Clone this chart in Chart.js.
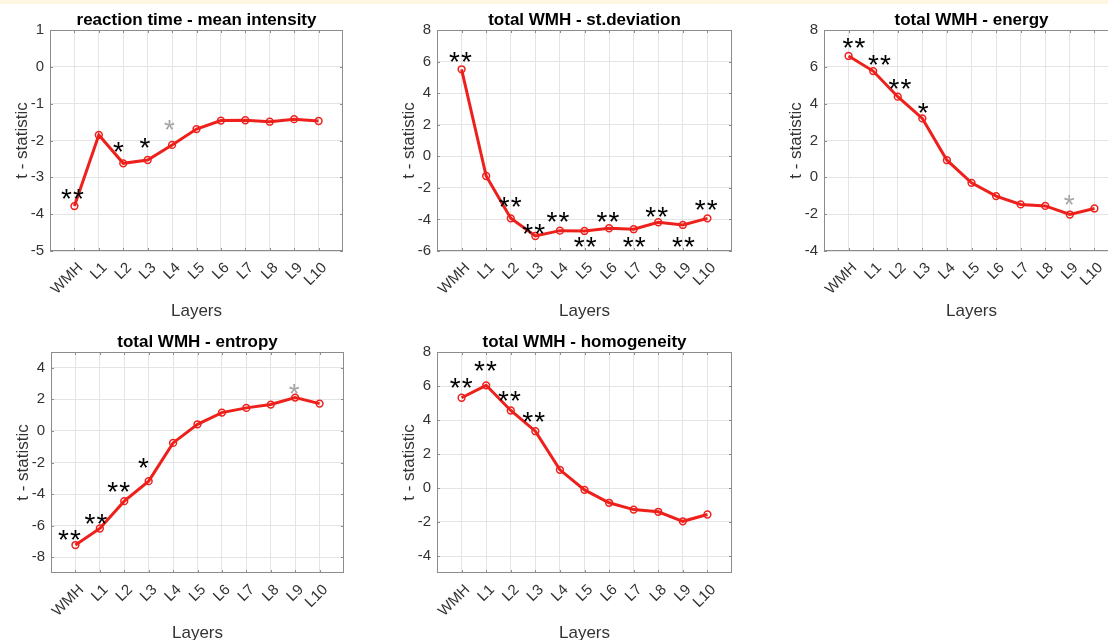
<!DOCTYPE html>
<html>
<head>
<meta charset="utf-8">
<script src="https://cdn.jsdelivr.net/npm/chart.js@4.4.0/dist/chart.umd.min.js"></script>
<style>
  html, body { margin: 0; padding: 0; background: #fff; width: 1108px; height: 640px; overflow: hidden; position: relative; }
  .strip { position: absolute; left: 0; top: 0; width: 1108px; height: 4px; background: #fdf7e2; }
  canvas { position: absolute; }
</style>
</head>
<body>
<div class="strip"></div>
<canvas id="c1"></canvas>
<canvas id="c2"></canvas>
<canvas id="c3"></canvas>
<canvas id="c4"></canvas>
<canvas id="c5"></canvas>
<script>
// categories
const layers = ['WMH', 'L1', 'L2', 'L3', 'L4', 'L5', 'L6', 'L7', 'L8', 'L9', 'L10'];

// t-statistic per layer
const rtMeanIntensity = [-3.78, -1.85, -2.62, -2.53, -2.12, -1.69, -1.46, -1.45, -1.49, -1.42, -1.47];
const wmhStDeviation  = [5.51, -1.25, -3.93, -5.05, -4.71, -4.73, -4.56, -4.62, -4.18, -4.35, -3.93];
const wmhEnergy       = [6.59, 5.77, 4.38, 3.20, 0.93, -0.30, -1.02, -1.47, -1.55, -2.02, -1.69];
const wmhEntropy      = [-7.23, -6.18, -4.45, -3.18, -0.76, 0.42, 1.16, 1.46, 1.67, 2.11, 1.73];
const wmhHomogeneity  = [5.31, 6.04, 4.56, 3.34, 1.07, -0.11, -0.87, -1.27, -1.40, -1.96, -1.56];

// y tick labels
const ticks1 = [-5, -4, -3, -2, -1, 0, 1];
const ticks2 = [-6, -4, -2, 0, 2, 4, 6, 8];
const ticks3 = [-4, -2, 0, 2, 4, 6, 8];
const ticks4 = [-8, -6, -4, -2, 0, 2, 4];
const ticks5 = [-4, -2, 0, 2, 4, 6, 8];

// significance marks (x = layer position, WMH = 1), weak = grey trend mark
const sig1X = [0.92, 2.8, 3.89, 4.89];
const sig1Y = [-3.45, -2.17, -2.06, -1.58];
const sig1Text = ['**', '*', '*', '*'];
const sig1Weak = [false, false, false, true];

const sig2X = [0.95, 2.98, 3.93, 4.92, 6.03, 6.95, 8.02, 8.94, 10.02, 10.95];
const sig2Y = [6.27, -2.87, -4.6, -3.82, -5.41, -3.82, -5.41, -3.5, -5.41, -3.08];
const sig2Text = ['**', '**', '**', '**', '**', '**', '**', '**', '**', '**'];
const sig2Weak = [false, false, false, false, false, false, false, false, false, false];

const sig3X = [1.22, 2.26, 3.09, 4.04, 9.97];
const sig3Y = [7.28, 6.37, 5.05, 3.78, -1.24];
const sig3Text = ['**', '**', '**', '*', '*'];
const sig3Weak = [false, false, false, false, true];

const sig4X = [0.76, 1.84, 2.77, 3.79, 9.96];
const sig4Y = [-6.6, -5.59, -3.54, -2.06, 2.64];
const sig4Text = ['**', '**', '**', '*', '*'];
const sig4Weak = [false, false, false, false, true];

const sig5X = [0.98, 1.97, 2.95, 3.93];
const sig5Y = [6.17, 7.16, 5.39, 4.17];
const sig5Text = ['**', '**', '**', '**'];
const sig5Weak = [false, false, false, false];

const FONT = '"Liberation Sans", Arial, Helvetica, sans-serif';
const RED = 'rgb(238, 32, 28)';
const GRID = '#e4e4e4';
const BOX = '#8c8c8c';
const TICK = '#333333';
const Y_AXIS_W = 50, X_AXIS_H = 72, TOP_PAD = 30, RIGHT_PAD = 25, PLOT_H = 221;
const STAR_GAP = 12;

// box, inward ticks, title and significance stars
const deco = {
    id: 'deco',
    beforeDatasetsDraw(chart) {
        const { ctx, chartArea: a, scales } = chart;
        ctx.save();
        ctx.strokeStyle = BOX;
        ctx.lineWidth = 1;
        ctx.strokeRect(a.left + 0.5, a.top + 0.5, a.right - a.left - 1, a.bottom - a.top - 1);
        ctx.beginPath();
        scales.x.ticks.forEach(t => {
            const px = Math.round(scales.x.getPixelForValue(t.value)) + 0.5;
            ctx.moveTo(px, a.bottom); ctx.lineTo(px, a.bottom - 3);
            ctx.moveTo(px, a.top); ctx.lineTo(px, a.top + 3);
        });
        scales.y.ticks.forEach(t => {
            const py = Math.round(scales.y.getPixelForValue(t.value)) + 0.5;
            ctx.moveTo(a.left, py); ctx.lineTo(a.left + 3, py);
            ctx.moveTo(a.right, py); ctx.lineTo(a.right - 3, py);
        });
        ctx.stroke();
        ctx.restore();
    },
    afterDatasetsDraw(chart, args, opts) {
        const { ctx, chartArea: a, scales } = chart;
        ctx.save();
        ctx.fillStyle = '#000';
        ctx.font = 'bold 17px ' + FONT;
        ctx.textAlign = 'center';
        ctx.textBaseline = 'alphabetic';
        ctx.fillText(opts.title, (a.left + a.right) / 2, a.top - 5);

        ctx.font = '28px ' + FONT;
        const m = ctx.measureText('*');
        const inkMid = (m.actualBoundingBoxAscent - m.actualBoundingBoxDescent) / 2;
        opts.sigX.forEach((x, i) => {
            ctx.fillStyle = opts.sigWeak[i] ? '#a6a6a6' : '#000';
            const chars = opts.sigText[i].split('');
            const cx = scales.x.getPixelForValue(x);
            const cy = scales.y.getPixelForValue(opts.sigY[i]) + inkMid;
            chars.forEach((ch, k) => {
                ctx.fillText(ch, cx + (k - (chars.length - 1) / 2) * STAR_GAP, cy);
            });
        });
        ctx.restore();
    }
};

function makePanel(id, plotX, plotY, plotW, title, values, yMin, yMax, yTicks, sigX, sigY, sigText, sigWeak) {
    const canvas = document.getElementById(id);
    canvas.width = Y_AXIS_W + plotW + RIGHT_PAD;
    canvas.height = TOP_PAD + PLOT_H + X_AXIS_H;
    canvas.style.left = (plotX - Y_AXIS_W) + 'px';
    canvas.style.top = (plotY - TOP_PAD) + 'px';

    new Chart(canvas, {
        type: 'line',
        data: {
            datasets: [{
                data: values.map((v, i) => ({ x: i + 1, y: v })),
                borderColor: RED,
                borderWidth: 3,
                tension: 0,
                pointRadius: 3.4,
                pointBorderWidth: 1.5,
                pointBorderColor: RED,
                pointBackgroundColor: 'rgba(0,0,0,0)'
            }]
        },
        options: {
            responsive: false,
            animation: false,
            devicePixelRatio: 1,
            layout: { padding: { top: TOP_PAD, right: RIGHT_PAD, left: 0, bottom: 0 } },
            plugins: {
                legend: { display: false },
                tooltip: { enabled: false },
                deco: { title, sigX, sigY, sigText, sigWeak }
            },
            scales: {
                x: {
                    type: 'linear',
                    min: 0,
                    max: 12,
                    afterBuildTicks: s => { s.ticks = layers.map((_, i) => ({ value: i + 1 })); },
                    afterFit: s => { s.height = X_AXIS_H; },
                    grid: { color: GRID, drawTicks: false },
                    border: { display: false },
                    ticks: {
                        autoSkip: false, minRotation: 45, maxRotation: 45, padding: 8, labelOffset: 6,
                        color: TICK, font: { family: FONT, size: 15 },
                        callback: v => layers[v - 1]
                    },
                    title: {
                        display: true, text: 'Layers', color: TICK,
                        font: { family: FONT, size: 17 }, padding: { top: 0, bottom: 1 }
                    }
                },
                y: {
                    min: yMin,
                    max: yMax,
                    afterBuildTicks: s => { s.ticks = yTicks.map(v => ({ value: v })); },
                    afterFit: s => { s.width = Y_AXIS_W; },
                    grid: { color: GRID, drawTicks: false },
                    border: { display: false },
                    ticks: {
                        padding: 6, color: TICK, font: { family: FONT, size: 15 },
                        callback: v => String(v)
                    },
                    title: {
                        display: true, text: 't - statistic', color: TICK,
                        font: { family: FONT, size: 17 }, padding: { top: 12, bottom: 0 }
                    }
                }
            }
        },
        plugins: [deco]
    });
}

makePanel('c1', 50, 30, 293, 'reaction time - mean intensity', rtMeanIntensity, -5, 1, ticks1, sig1X, sig1Y, sig1Text, sig1Weak);
makePanel('c2', 437, 30, 295, 'total WMH - st.deviation', wmhStDeviation, -6, 8, ticks2, sig2X, sig2Y, sig2Text, sig2Weak);
makePanel('c3', 824, 30, 295, 'total WMH - energy', wmhEnergy, -4, 8, ticks3, sig3X, sig3Y, sig3Text, sig3Weak);
makePanel('c4', 51, 352, 293, 'total WMH - entropy', wmhEntropy, -9, 5, ticks4, sig4X, sig4Y, sig4Text, sig4Weak);
makePanel('c5', 437, 352, 295, 'total WMH - homogeneity', wmhHomogeneity, -5, 8, ticks5, sig5X, sig5Y, sig5Text, sig5Weak);
</script>
</body>
</html>
